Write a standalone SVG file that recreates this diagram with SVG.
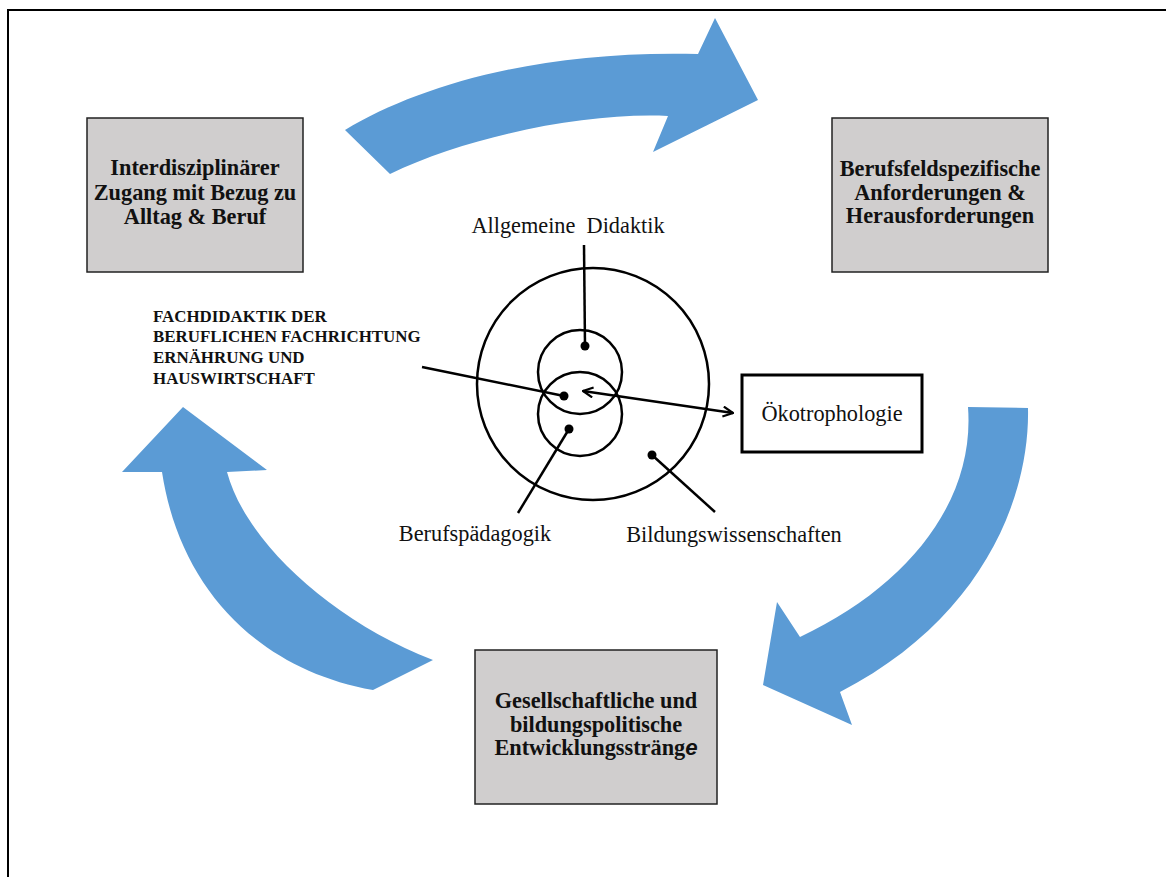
<svg xmlns="http://www.w3.org/2000/svg" width="1166" height="877" viewBox="0 0 1166 877">
<defs>
<style>
.arrow{fill:#5B9BD5;}
.box{fill:#d0cece;stroke:#222;stroke-width:1.5;}
.bt{font-family:"Liberation Serif","Times New Roman",serif;font-weight:bold;font-size:22.3px;fill:#111;text-anchor:middle;}
.lt{font-family:"Liberation Serif","Times New Roman",serif;font-size:22.3px;fill:#111;}
.ft{font-family:"Liberation Serif","Times New Roman",serif;font-weight:bold;font-size:16.9px;fill:#111;}
.ln{stroke:#000;stroke-width:2.5;fill:none;}
</style>
<marker id="oh" viewBox="0 0 12 12" refX="11" refY="6" markerWidth="12" markerHeight="12" markerUnits="userSpaceOnUse" orient="auto-start-reverse">
<path d="M1,1 L11,6 L1,11" fill="none" stroke="#000" stroke-width="2.2"/>
</marker>
</defs>
<rect width="1166" height="877" fill="#fff"/>
<path d="M8,877 L8,10 L1166,10" fill="none" stroke="#000" stroke-width="2"/>

<g id="cycle-arrows">
<path class="arrow" d="M345,130 C420,85 540,50 698,54 L715,18 L758,100 L653,152 L668,116 C590,112 470,135 390,174 Z"/>
<path class="arrow" d="M968,407 L1028,408 C1030,500 980,620 840,692 L852,725 L763,685 L777,602 L800,637 C910,585 975,500 968,407 Z"/>
<path class="arrow" d="M183,407 L267,470 L227,472 C245,540 330,620 433,660 L373,690 C260,670 180,590 162,472 L122,472 Z"/>
</g>

<g id="box-interdisziplinaer">
<rect class="box" x="87" y="118" width="216" height="154"/>
<text class="bt" x="195" y="175">Interdisziplinärer</text>
<text class="bt" x="195" y="200">Zugang mit Bezug zu</text>
<text class="bt" x="195" y="224">Alltag &amp; Beruf</text>
</g>

<g id="box-berufsfeld">
<rect class="box" x="832" y="118" width="216" height="154"/>
<text class="bt" x="940" y="176">Berufsfeldspezifische</text>
<text class="bt" x="940" y="200">Anforderungen &amp;</text>
<text class="bt" x="940" y="223">Herausforderungen</text>
</g>

<g id="box-gesellschaft">
<rect class="box" x="475" y="650" width="242" height="154"/>
<text class="bt" x="596" y="708">Gesellschaftliche und</text>
<text class="bt" x="596" y="732">bildungspolitische</text>
<text class="bt" x="596" y="755">Entwicklungssträng<tspan font-family="'Liberation Sans',Arial,sans-serif" font-style="italic">e</tspan></text>
</g>

<g id="circles">
<circle class="ln" cx="593" cy="384" r="116"/>
<circle class="ln" cx="580" cy="372" r="42"/>
<circle class="ln" cx="580" cy="414" r="42"/>
<circle cx="585" cy="346" r="4.5" fill="#000"/>
<circle cx="564" cy="396" r="4.5" fill="#000"/>
<circle cx="569" cy="429" r="4.5" fill="#000"/>
<circle cx="652" cy="455" r="4.5" fill="#000"/>
</g>

<g id="label-allgemeine">
<text class="lt" x="568" y="233" text-anchor="middle" xml:space="preserve">Allgemeine  Didaktik</text>
</g>
<g id="label-berufspaedagogik">
<text class="lt" x="475" y="541" text-anchor="middle">Berufspädagogik</text>
</g>
<g id="label-bildung">
<text class="lt" x="734" y="542" text-anchor="middle">Bildungswissenschaften</text>
</g>
<g id="label-fachdidaktik">
<text class="ft" x="153" y="322">FACHDIDAKTIK DER</text>
<text class="ft" x="153" y="342">BERUFLICHEN FACHRICHTUNG</text>
<text class="ft" x="153" y="363">ERNÄHRUNG UND</text>
<text class="ft" x="153" y="384">HAUSWIRTSCHAFT</text>
</g>
<g id="box-oekotrophologie">
<rect x="742" y="375" width="180" height="77" fill="#fff" stroke="#000" stroke-width="3"/>
<text class="lt" x="832" y="421" text-anchor="middle">Ökotrophologie</text>
</g>

<g id="connectors">
<line class="ln" x1="584" y1="245" x2="585" y2="346"/>
<line class="ln" x1="518" y1="513" x2="569" y2="429"/>
<line class="ln" x1="715" y1="512" x2="652" y2="455"/>
<line class="ln" x1="422" y1="367" x2="564" y2="396"/>
<line class="ln" x1="583" y1="391" x2="733" y2="413" marker-start="url(#oh)" marker-end="url(#oh)"/>
</g>
</svg>
